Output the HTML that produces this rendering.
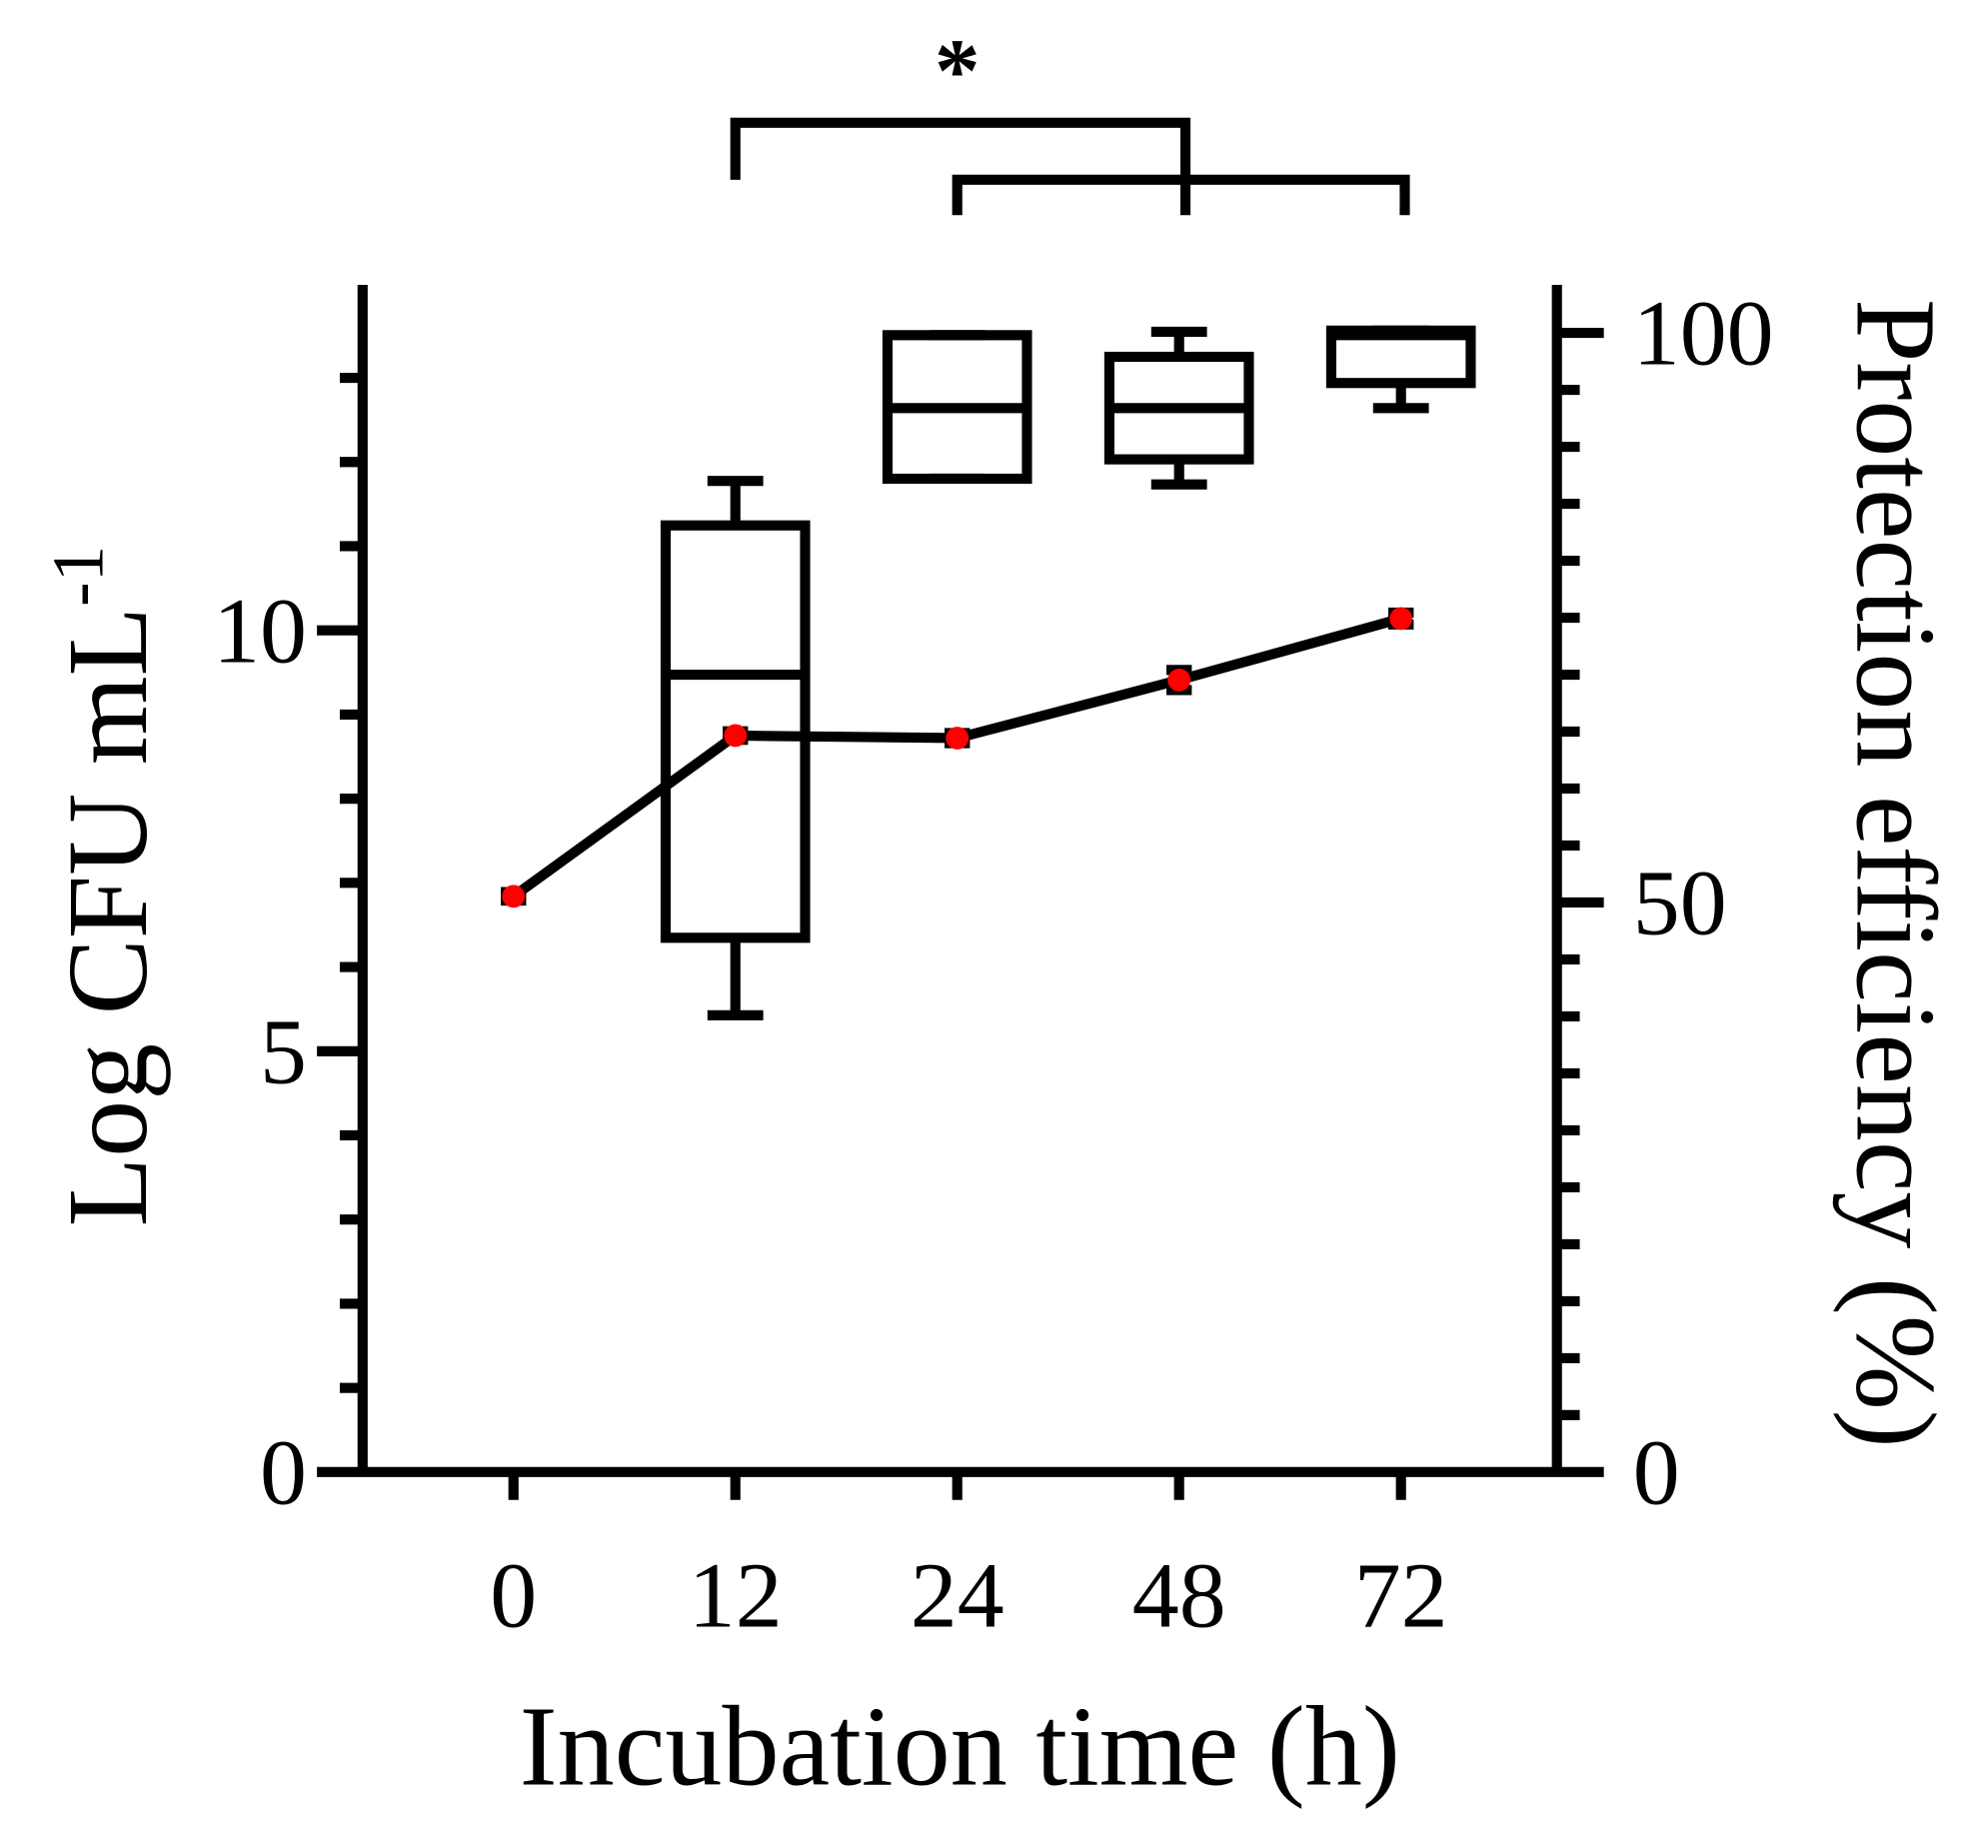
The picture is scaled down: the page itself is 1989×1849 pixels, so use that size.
<!DOCTYPE html>
<html><head><meta charset="utf-8"><style>
html,body{margin:0;padding:0;background:#fff}
svg{display:block}
text{font-family:"Liberation Serif",serif;fill:#000}
</style></head><body>
<svg id="chart" width="1989" height="1849" viewBox="0 0 1568 1460" preserveAspectRatio="none" xmlns="http://www.w3.org/2000/svg">
<g id="axes"></g>
<g id="boxes"></g>
<g id="line"></g>
<g id="sig">
<path d="M580,142 V97 H935 V170 M755,170 V142 H1108 V170" fill="none" stroke="#000" stroke-width="8"/>
<text x="755" y="80" font-size="72" font-weight="bold" text-anchor="middle" font-family="Liberation Sans">*</text>
</g>
<text x="757" y="1410" font-size="90" text-anchor="middle">Incubation time (h)</text>
<text transform="translate(115,700) rotate(-90)" font-size="90" text-anchor="middle">Log CFU mL<tspan dy="-34" font-size="58">-1</tspan></text>
<text transform="translate(1465,690) rotate(90)" font-size="90" text-anchor="middle">Protection efficiency  (%)</text>
</svg>
<script>
const categories = ["0","12","24","48","72"];
const cfuValues = [6.84, 8.75, 8.72, 9.41, 10.14];
const cfuErr = [0.05, 0.05, 0.06, 0.12, 0.07];
const boxCats = ["12","24","48","72"];
const boxMin = [40.1, 87.2, 86.7, 93.4];
const boxQ1 = [46.9, 87.2, 88.9, 95.6];
const boxMed = [70, 93.4, 93.4, 99.8];
const boxQ3 = [83.1, 99.8, 97.9, 100.2];
const boxMax = [87, 99.8, 100.1, 100.2];
const leftTicks = [0, 5, 10];
const rightTicks = [0, 50, 100];

const NS = "http://www.w3.org/2000/svg";
const X0 = 405, DX = 175, YB = 1163;
const xPos = c => X0 + categories.indexOf(c) * DX;
const yL = v => YB - v * 66.5;
const yR = v => YB - v * 9;
function mk(tag, attrs, parent) {
  const e = document.createElementNS(NS, tag);
  for (const k in attrs) e.setAttribute(k, attrs[k]);
  parent.appendChild(e); return e;
}
const ax = document.getElementById('axes');
const S = {stroke: "#000", "stroke-width": 8, fill: "none"};
let p = mk('path', Object.assign({d: `M286,225 V${YB} M250,${YB} H1265 M1228,225 V${YB}`}, S), ax);


for (let v = 1; v <= 13; v++) {
  const l = mk('line', Object.assign({x1: leftTicks.includes(v) ? 250 : 268, x2: 286, y1: yL(v), y2: yL(v)}, S), ax);
  
  
}
leftTicks.forEach(v => {
  const t = mk('text', {x: 242, y: yL(v) + 25, "font-size": 74, "text-anchor": "end"}, ax);
  t.textContent = v;
  
  
});
for (let v = 5; v <= 100; v += 5) {
  const l = mk('line', Object.assign({x1: 1228, x2: rightTicks.includes(v) ? 1265 : 1246, y1: yR(v), y2: yR(v)}, S), ax);
  
  
}
rightTicks.forEach(v => {
  const t = mk('text', {x: 1288, y: yR(v) + 25, "font-size": 74}, ax);
  t.textContent = v;
  
  
});
categories.forEach(c => {
  const l = mk('line', Object.assign({x1: xPos(c), x2: xPos(c), y1: YB, y2: 1185}, S), ax);
  
  
  const t = mk('text', {x: xPos(c), y: 1285, "font-size": 74, "text-anchor": "middle"}, ax);
  t.textContent = c;
  
  
});
const bx = document.getElementById('boxes');
boxCats.forEach((c, i) => {
  const x = xPos(c), w = 55, cw = 22;
  const g = mk('g', {}, bx);
  
  
  mk('rect', Object.assign({x: x - w, y: yR(boxQ3[i]), width: 2 * w, height: yR(boxQ1[i]) - yR(boxQ3[i])}, S), g);
  mk('path', Object.assign({d: `M${x - w},${yR(boxMed[i])} H${x + w} M${x},${yR(boxQ3[i])} V${yR(boxMax[i])} M${x - cw},${yR(boxMax[i])} H${x + cw} M${x},${yR(boxQ1[i])} V${yR(boxMin[i])} M${x - cw},${yR(boxMin[i])} H${x + cw}`}, S), g);
});
const ln = document.getElementById('line');
const pl = mk('polyline', Object.assign({points: categories.map((c, i) => xPos(c) + ',' + yL(cfuValues[i])).join(' ')}, S), ln);


categories.forEach((c, i) => {
  const x = xPos(c), y = yL(cfuValues[i]);
  const e = mk('path', Object.assign({d: `M${x},${yL(cfuValues[i] + cfuErr[i])} V${yL(cfuValues[i] - cfuErr[i])} M${x - 10},${yL(cfuValues[i] + cfuErr[i])} H${x + 10} M${x - 10},${yL(cfuValues[i] - cfuErr[i])} H${x + 10}`}, S), ln);
  
  
  const d = mk('circle', {cx: x, cy: y, r: 9, fill: "#f00"}, ln);
  
  
});
</script>
</body></html>
